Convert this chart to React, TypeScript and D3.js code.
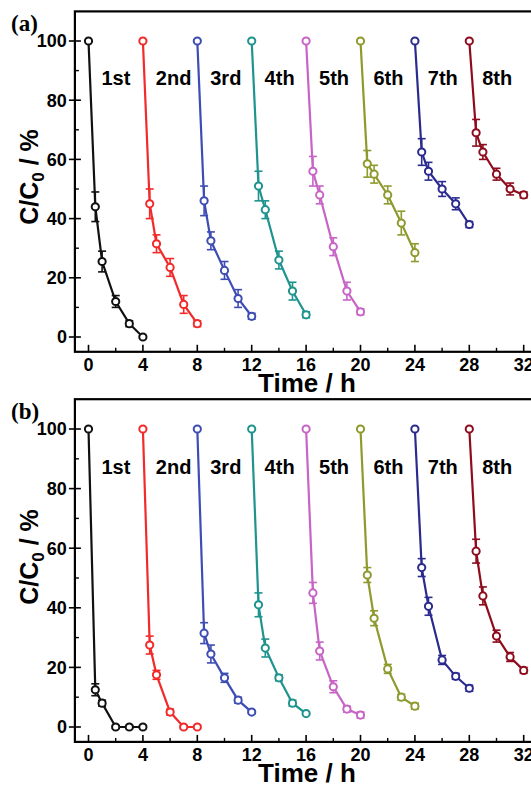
import React from "react";
import * as d3 from "d3";

const relTimes = [0, 0.5, 1, 2, 3, 4];
const cycleLabels = ["1st", "2nd", "3rd", "4th", "5th", "6th", "7th", "8th"];
const colors = ["#111111", "#f22a2a", "#3d4db3", "#1f938e", "#c764c6", "#8f9a2e", "#2b2b8f", "#8e0c1c"];

const valuesA = [
  [100, 44, 25.5, 12, 4.5, 0],
  [100, 45, 31.5, 23.5, 11, 4.5],
  [100, 46, 32.5, 22.5, 13, 7],
  [100, 51, 43, 26, 15.5, 7.5],
  [100, 56, 48, 30.5, 15.5, 8.5],
  [100, 58.5, 55, 48, 38.5, 28.5],
  [100, 62.5, 56, 50, 45, 38],
  [100, 69, 62.5, 55, 50, 48],
];
const errorsA = [
  [0, 5, 3.5, 2, 1, 0.5],
  [0, 5, 3, 3, 3, 1],
  [0, 5, 3, 3, 3, 1],
  [0, 5, 3, 3, 3, 1],
  [0, 5, 3, 3, 3, 1],
  [0, 4.5, 3, 3, 4, 3],
  [0, 4.5, 3, 2.5, 2, 1],
  [0, 4.5, 2.5, 2, 2, 1],
];
const valuesB = [
  [100, 12.5, 8, 0, 0, 0],
  [100, 27.5, 17.5, 5, 0, 0],
  [100, 31.5, 24.5, 16.5, 9, 5],
  [100, 41, 26.5, 16.5, 8, 4.5],
  [100, 45, 25.5, 13.5, 6, 4],
  [100, 51, 36.5, 19.5, 10, 7],
  [100, 53.5, 40.5, 22.5, 17, 13],
  [100, 59, 44, 30.5, 23.5, 19],
];
const errorsB = [
  [0, 2, 1, 0.5, 0.5, 0.5],
  [0, 3, 1.5, 1, 0.5, 0.5],
  [0, 3.5, 3, 1.5, 1, 0.5],
  [0, 4, 3, 1, 1, 0.5],
  [0, 3.5, 3, 2, 1, 1],
  [0, 2.5, 2.5, 1.5, 1, 1],
  [0, 3, 3, 1.5, 1, 1],
  [0, 4, 3, 2, 1.5, 1],
];

const xMajorTicks = [0, 4, 8, 12, 16, 20, 24, 28, 32];
const xMinorTicks = [2, 6, 10, 14, 18, 22, 26, 30];
const yMajorTicks = [0, 20, 40, 60, 80, 100];
const yMinorTicks = [10, 30, 50, 70, 90];

const SANS = "'Liberation Sans', Arial, sans-serif";
const SERIF = "'Liberation Serif', 'Times New Roman', serif";

type PanelProps = {
  letter: string;
  y0: number;
  y100: number;
  values: number[][];
  errors: number[][];
  ylabelY: number;
};

function Panel({ letter, y0, y100, values, errors, ylabelY }: PanelProps) {
  const x = d3.scaleLinear().domain([0, 32]).range([88.5, 523.7]);
  const y = d3.scaleLinear().domain([0, 100]).range([y0, y100]);
  const left = x(-1);
  const right = x(33.5);
  const top = y(110);
  const bottom = y(-5);
  const line = d3
    .line<[number, number]>()
    .x((d) => x(d[0]))
    .y((d) => y(d[1]));

  return (
    <g>
      {/* frame */}
      <rect x={left} y={top} width={right - left} height={bottom - top} fill="none" stroke="#000" strokeWidth={2.2} />
      {/* y ticks */}
      {yMajorTicks.map((t) => (
        <g key={"ym" + t}>
          <line x1={left - 6} x2={left + 6} y1={y(t)} y2={y(t)} stroke="#000" strokeWidth={1.6} />
          <text x={left - 8} y={y(t)} dy="0.36em" textAnchor="end" fontFamily={SANS} fontWeight="bold" fontSize={18}>
            {t}
          </text>
        </g>
      ))}
      {yMinorTicks.map((t) => (
        <line key={"yn" + t} x1={left} x2={left + 4} y1={y(t)} y2={y(t)} stroke="#000" strokeWidth={1.4} />
      ))}
      {/* x ticks */}
      {xMajorTicks.map((t) => (
        <g key={"xm" + t}>
          <line x1={x(t)} x2={x(t)} y1={bottom} y2={bottom - 7} stroke="#000" strokeWidth={1.6} />
          <text x={x(t)} y={bottom + 19} textAnchor="middle" fontFamily={SANS} fontWeight="bold" fontSize={18}>
            {t}
          </text>
        </g>
      ))}
      {xMinorTicks.map((t) => (
        <line key={"xn" + t} x1={x(t)} x2={x(t)} y1={bottom} y2={bottom - 4} stroke="#000" strokeWidth={1.4} />
      ))}
      {/* axis titles */}
      <text x={307} y={bottom + 40} textAnchor="middle" fontFamily={SANS} fontWeight="bold" fontSize={26}>
        Time / h
      </text>
      <text
        transform={`translate(38,${ylabelY}) rotate(-90)`}
        textAnchor="middle"
        fontFamily={SANS}
        fontWeight="bold"
        fontSize={25}
      >
        C/C<tspan fontSize={17} dy={6}>0</tspan>
        <tspan dy={-6}> / %</tspan>
      </text>
      <text x={11} y={top + 20} fontFamily={SERIF} fontWeight="bold" fontSize={23}>
        ({letter})
      </text>
      {/* series */}
      {values.map((vals, k) => {
        const pts: [number, number][] = vals.map((v, i) => [4 * k + relTimes[i], v]);
        const c = colors[k];
        return (
          <g key={"s" + k}>
            {pts.map((p, i) => {
              const e = errors[k][i];
              if (e <= 0) return null;
              const px = x(p[0]);
              return (
                <g key={"e" + i} stroke={c} strokeWidth={1.6}>
                  <line x1={px} x2={px} y1={y(p[1] + e)} y2={y(p[1] - e)} />
                  <line x1={px - 4} x2={px + 4} y1={y(p[1] + e)} y2={y(p[1] + e)} />
                  <line x1={px - 4} x2={px + 4} y1={y(p[1] - e)} y2={y(p[1] - e)} />
                </g>
              );
            })}
            <path d={line(pts) || ""} fill="none" stroke={c} strokeWidth={2.2} />
            {pts.map((p, i) => (
              <circle key={"m" + i} cx={x(p[0])} cy={y(p[1])} r={3.6} fill="#fff" stroke={c} strokeWidth={2} />
            ))}
            <text
              x={x(4 * k + 0.95)}
              y={y(85)}
              fontFamily={SANS}
              fontWeight="bold"
              fontSize={20}
              fill="#000"
            >
              {cycleLabels[k]}
            </text>
          </g>
        );
      })}
    </g>
  );
}

export default function App() {
  return (
    <svg
      width={531}
      height={785}
      style={{ position: "absolute", left: 0, top: 0, background: "#fff" }}
    >
      <rect x={0} y={0} width={531} height={785} fill="#fff" />
      <Panel letter="a" y0={337} y100={41} values={valuesA} errors={errorsA} ylabelY={177} />
      <Panel letter="b" y0={727} y100={429} values={valuesB} errors={errorsB} ylabelY={557} />
    </svg>
  );
}
